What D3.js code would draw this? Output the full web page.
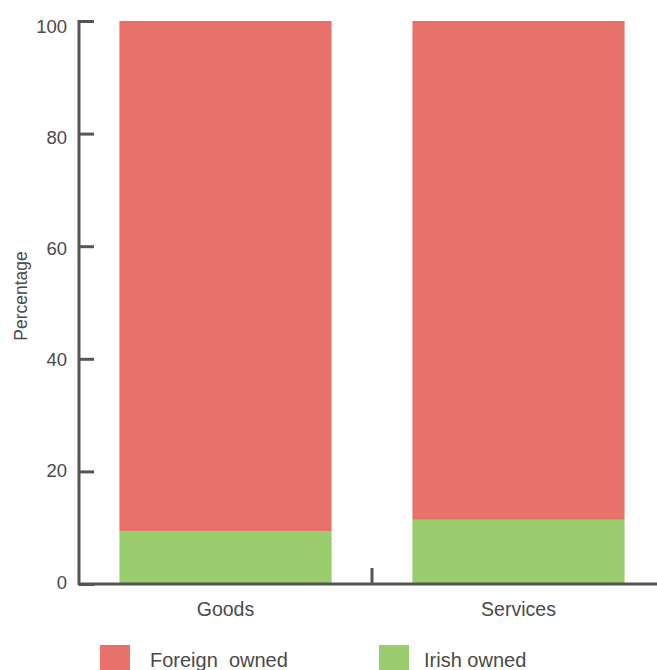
<!DOCTYPE html>
<html><head><meta charset="utf-8">
<script src="https://cdn.jsdelivr.net/npm/d3@7"></script>
<style>body{margin:0;background:#fff}svg{display:block}text{font-family:"Liberation Sans",Arial,sans-serif;fill:#4a4a4a}</style>
</head><body><svg id="c" width="657" height="670"></svg>
<script>
const categories = ["Goods", "Services"];
const irishOwned = [9.4, 11.4];
const foreignOwned = [90.6, 88.6];
const yTicks = [0, 20, 40, 60, 80, 100];
const seriesNames = ["Foreign  owned", "Irish owned"];
const colors = ["#E8716B", "#9ACD6E"];

const svg = d3.select("#c");
const x = d3.scaleBand().domain(categories).range([79, 665]).paddingInner(0.276).paddingOuter(0.138);
const y = d3.scaleLinear().domain([0, 100]).range([584, 21]);
const yLab = d3.scaleLinear().domain([0, 100]).range([588.5, 33.3]);

const rows = categories.map((c, i) => ({cat: c, irish: irishOwned[i], foreign: foreignOwned[i]}));
const stack = d3.stack().keys(["irish", "foreign"])(rows);
const colorOf = {irish: colors[1], foreign: colors[0]};

svg.append("g").selectAll("g").data(stack).join("g")
  .attr("fill", d => colorOf[d.key])
  .selectAll("rect").data(d => d).join("rect")
  .attr("x", d => x(d.data.cat))
  .attr("width", x.bandwidth())
  .attr("y", d => y(d[1]))
  .attr("height", d => y(d[0]) - y(d[1]));

// y axis
const ya = svg.append("g").attr("transform", "translate(79,0)")
  .call(d3.axisRight(y).tickValues(yTicks).tickSize(15).tickFormat(""));
ya.select(".domain").remove();
ya.selectAll("line").attr("stroke", "#555").attr("stroke-width", 3);
svg.append("line").attr("x1", 79).attr("x2", 79).attr("y1", 20).attr("y2", 585)
  .attr("stroke", "#555").attr("stroke-width", 3);
svg.append("g").selectAll("text").data(yTicks).join("text")
  .attr("x", 67).attr("y", d => yLab(d)).attr("text-anchor", "end")
  .attr("font-size", 18.5).text(d => d);

// x axis
svg.append("line").attr("x1", 78).attr("x2", 657).attr("y1", 584).attr("y2", 584)
  .attr("stroke", "#555").attr("stroke-width", 3);
const mid = (x("Goods") + x.bandwidth() + x("Services")) / 2;
svg.append("line").attr("x1", mid).attr("x2", mid).attr("y1", 584).attr("y2", 568)
  .attr("stroke", "#555").attr("stroke-width", 3);
svg.append("g").selectAll("text").data(categories).join("text")
  .attr("x", d => x(d) + x.bandwidth() / 2).attr("y", 616).attr("text-anchor", "middle")
  .attr("font-size", 19.5).text(d => d);

svg.append("text").attr("transform", "translate(27,296) rotate(-90)")
  .attr("text-anchor", "middle").attr("font-size", 17.5).text("Percentage");

// legend
const lx = [100, 379];
const lg = svg.append("g").selectAll("g").data(seriesNames).join("g")
  .attr("transform", (d, i) => `translate(${lx[i]},645)`);
lg.append("rect").attr("width", 30).attr("height", 25).attr("fill", (d, i) => colors[i]);
lg.append("text").attr("x", (d, i) => i === 0 ? 50 : 45).attr("y", 21.5).attr("font-size", 20)
  .attr("xml:space", "preserve").style("white-space", "pre").text(d => d);
</script></body></html>
